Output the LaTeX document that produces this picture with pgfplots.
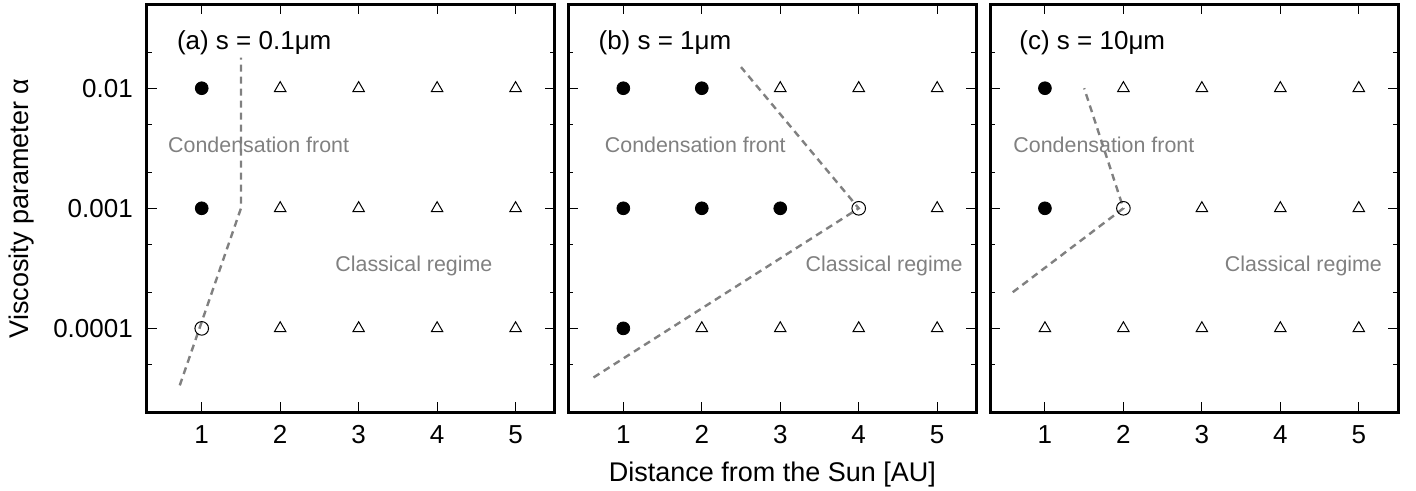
\documentclass[border=0pt]{standalone}
\usepackage{fontspec}
\setmainfont{Liberation Sans}
\usepackage{pgfplots}
\pgfplotsset{compat=1.18}
\definecolor{frontgray}{RGB}{128,128,128}
\pgfplotsset{
  every axis/.append style={
    scale only axis, width=204pt, height=204pt,
    anchor=south west,
    xmin=0.3, xmax=5.5, ymin=2e-5, ymax=5e-2,
    xtick={1,2,3,4,5}, xticklabels={1,2,3,4,5},
    ytick={1e-4,1e-3,1e-2},
    minor ytick={2e-5,5e-5,2e-4,5e-4,2e-3,5e-3,2e-2,5e-2},
    tick align=inside,
    major tick length=5pt, minor tick length=2.5pt,
    every tick/.style={black, line width=0.5pt},
    axis line style={line width=1.5pt},
    tick label style={font=\fontsize{13}{15}\selectfont},
    xticklabel style={anchor=base, yshift=-15.4pt},
    yticklabel style={anchor=east, inner sep=0pt, xshift=-6.8pt},
    label style={font=\fontsize{13.5}{16}\selectfont},
  },
}
\tikzset{
  front/.style={frontgray, line width=1.2pt, dash pattern=on 3.5pt off 2.5pt},
  full/.style={mark=*, mark size=3.2pt, black},
  open/.style={mark=o, mark size=3.4pt, black, mark options={line width=0.5pt}},
  tri/.style={mark=triangle, mark size=3.3pt, black, mark options={line width=0.5pt}},
  ann/.style={anchor=base west, inner sep=0pt, text=frontgray, font=\fontsize{10.7}{12}\selectfont},
  annr/.style={anchor=base east, inner sep=0pt, text=frontgray, font=\fontsize{10.7}{12}\selectfont},
  ttl/.style={anchor=base west, inner sep=0pt, font=\fontsize{13}{15}\selectfont},
}
\begin{document}
\begin{tikzpicture}
\useasboundingbox (0,0) rectangle (708pt,245.5pt);
% panel (a)
\begin{semilogyaxis}[at={(73.4pt,39.35pt)},
  yticklabels={0.0001,0.001,0.01},
  ylabel={Viscosity parameter α},
  ylabel style={at={(axis description cs:-0.307,0.5)}, anchor=center},
]
\addplot[front] coordinates {(0.72,3.35e-5) (1.5,0.001) (1.5,0.018)};
\addplot[only marks, full] coordinates {(1,0.01) (1,0.001)};
\addplot[only marks, open] coordinates {(1,1e-4)};
\addplot[only marks, tri] coordinates {(2,0.01) (3,0.01) (4,0.01) (5,0.01)
  (2,0.001) (3,0.001) (4,0.001) (5,0.001)
  (2,1e-4) (3,1e-4) (4,1e-4) (5,1e-4)};
\node[ttl] at (axis cs:0.68,0.02094) {(a) s = 0.1μm};
\node[ann] at (axis cs:0.568,0.00293) {Condensation front};
\node[annr] at (axis cs:4.71,3.0e-4) {Classical regime};
\end{semilogyaxis}
% panel (b)
\begin{semilogyaxis}[at={(284.2pt,39.35pt)},
  yticklabels={},
  xlabel={Distance from the Sun [AU]},
  xlabel style={at={(axis description cs:0.5,-0.170)}, anchor=base},
]
\addplot[front] coordinates {(0.62,3.9e-5) (4,0.001) (2.5,0.015)};
\addplot[only marks, full] coordinates {(1,0.01) (2,0.01) (1,0.001) (2,0.001) (3,0.001) (1,1e-4)};
\addplot[only marks, open] coordinates {(4,0.001)};
\addplot[only marks, tri] coordinates {(3,0.01) (4,0.01) (5,0.01)
  (5,0.001)
  (2,1e-4) (3,1e-4) (4,1e-4) (5,1e-4)};
\node[ttl] at (axis cs:0.68,0.02094) {(b) s = 1μm};
\node[ann] at (axis cs:0.76,0.00293) {Condensation front};
\node[annr] at (axis cs:5.33,3.0e-4) {Classical regime};
\end{semilogyaxis}
% panel (c)
\begin{semilogyaxis}[at={(495.0pt,39.35pt)},
  yticklabels={},
]
\addplot[front] coordinates {(0.59,2e-4) (2,0.001) (1.5,0.01)};
\addplot[only marks, full] coordinates {(1,0.01) (1,0.001)};
\addplot[only marks, open] coordinates {(2,0.001)};
\addplot[only marks, tri] coordinates {(2,0.01) (3,0.01) (4,0.01) (5,0.01)
  (3,0.001) (4,0.001) (5,0.001)
  (1,1e-4) (2,1e-4) (3,1e-4) (4,1e-4) (5,1e-4)};
\node[ttl] at (axis cs:0.67,0.02094) {(c) s = 10μm};
\node[ann] at (axis cs:0.594,0.00293) {Condensation front};
\node[annr] at (axis cs:5.30,3.0e-4) {Classical regime};
\end{semilogyaxis}
\end{tikzpicture}
\end{document}
